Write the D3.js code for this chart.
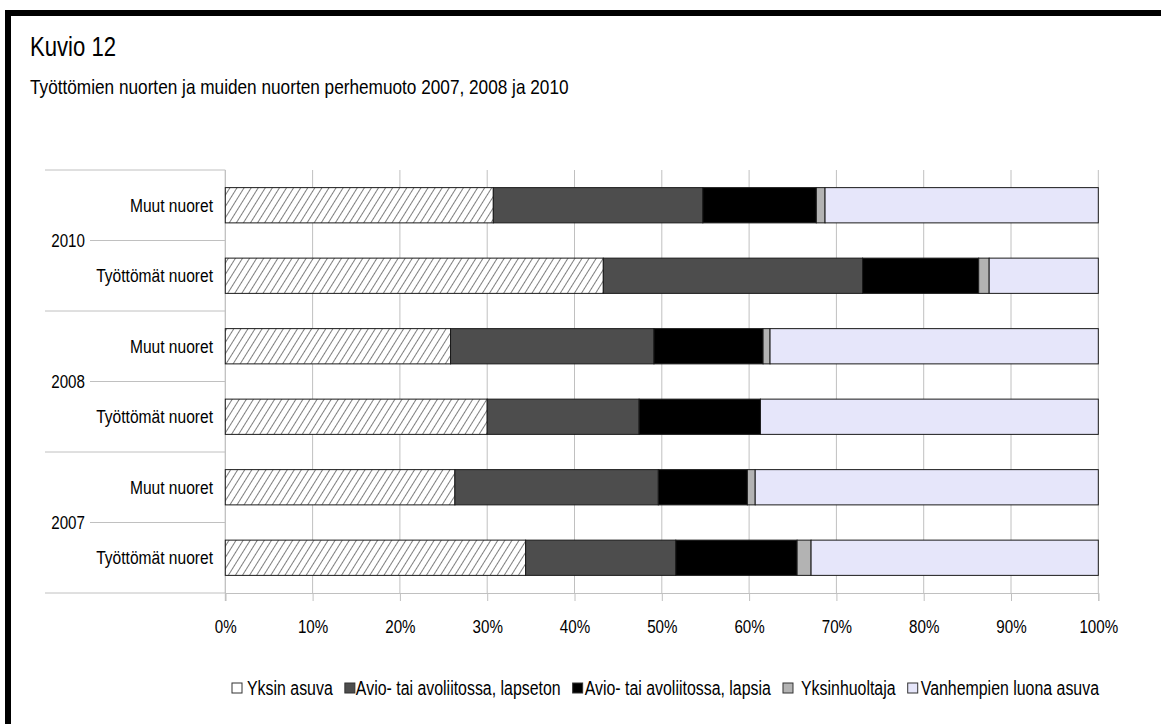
<!DOCTYPE html>
<html>
<head>
<meta charset="utf-8">
<script src="https://cdn.jsdelivr.net/npm/d3@7"></script>
<style>
  body { margin: 0; background: #fff; }
  svg text { font-family: "Liberation Sans", Arial, sans-serif; fill: #000; }
</style>
</head>
<body>
<svg id="chart" width="1161" height="724"></svg>
<script>
// ---- data ----
const years = ["2010", "2008", "2007"];
const groups = ["Muut nuoret", "Työttömät nuoret"];
const seriesNames = ["Yksin asuva", "Avio- tai avoliitossa, lapseton", "Avio- tai avoliitossa, lapsia", "Yksinhuoltaja", "Vanhempien luona asuva"];
// values (%) per row, top to bottom: 2010 Muut, 2010 Työttömät, 2008 Muut, 2008 Työttömät, 2007 Muut, 2007 Työttömät
const yksinAsuva      = [30.7, 43.3, 25.8, 30.0, 26.3, 34.4];
const lapseton        = [24.0, 29.7, 23.3, 17.4, 23.3, 17.2];
const lapsia          = [13.0, 13.3, 12.5, 13.9, 10.2, 13.9];
const yksinhuoltaja   = [ 1.0,  1.2,  0.8,  0.0,  0.9,  1.6];
const vanhempienLuona = [31.3, 12.5, 37.6, 38.7, 39.3, 32.9];
const xTicks = [0, 10, 20, 30, 40, 50, 60, 70, 80, 90, 100];
const title = "Kuvio 12";
const subtitle = "Työttömien nuorten ja muiden nuorten perhemuoto 2007, 2008 ja 2010";

// ---- build ----
const rows = [];
years.forEach(yr => groups.forEach(g => rows.push({ year: yr, group: g, key: yr + "|" + g })));
const seriesVals = [yksinAsuva, lapseton, lapsia, yksinhuoltaja, vanhempienLuona];
const table = rows.map((r, i) => {
  const o = { key: r.key };
  seriesNames.forEach((s, j) => o[s] = seriesVals[j][i]);
  return o;
});
const stacked = d3.stack().keys(seriesNames)(table);

const svg = d3.select("#chart");
const fills = ["url(#hatch)", "#4d4d4d", "#000000", "#b3b3b3", "#e6e6fa"];
const NARROW = 0.82;

// narrow text helper (emulates a condensed face)
function ntext(parent, xPos, yPos, size, str, anchor) {
  return parent.append("text")
    .attr("transform", `translate(${xPos},${yPos}) scale(${NARROW},1)`)
    .attr("font-size", size).attr("text-anchor", anchor || "start").text(str);
}

const defs = svg.append("defs");
const pat = defs.append("pattern").attr("id", "hatch").attr("patternUnits", "userSpaceOnUse")
  .attr("width", 6).attr("height", 6).attr("patternTransform", "rotate(32)");
pat.append("rect").attr("width", 6).attr("height", 6).attr("fill", "#fff");
pat.append("line").attr("x1", 0).attr("y1", 0).attr("x2", 0).attr("y2", 6).attr("stroke", "#000").attr("stroke-width", 1);

// frame
svg.append("rect").attr("x", 8).attr("y", 13).attr("width", 1200).attr("height", 760)
  .attr("fill", "none").attr("stroke", "#000").attr("stroke-width", 6);

ntext(svg, 30, 56, 27, title);
ntext(svg, 30, 94, 21, subtitle);

const pLeft = 225.3, pRight = 1098.3, pTop = 170, pBottom = 593;
const x = d3.scaleLinear().domain([0, 100]).range([pLeft, pRight]);
const y = d3.scaleBand().domain(rows.map(r => r.key)).range([pTop, pBottom]).paddingInner(0.5).paddingOuter(0.25);
const gridColor = "#c0c0c0";

// vertical gridlines
svg.append("g").selectAll("line").data(xTicks).join("line")
  .attr("x1", d => x(d)).attr("x2", d => x(d)).attr("y1", pTop).attr("y2", pBottom)
  .attr("stroke", gridColor).attr("stroke-width", 1);

// x axis
const xAxis = svg.append("g").attr("transform", `translate(0,${pBottom})`)
  .call(d3.axisBottom(x).tickValues(xTicks).tickFormat(d => d + "%").tickSize(8).tickPadding(19));
xAxis.select(".domain").attr("stroke", gridColor);
xAxis.selectAll(".tick line").attr("stroke", gridColor);
xAxis.selectAll("text").attr("font-size", 18.5).attr("fill", "#000")
  .style("font-family", '"Liberation Sans", Arial, sans-serif')
  .attr("transform", `scale(${NARROW},1)`);

// y axis line
svg.append("line").attr("x1", pLeft).attr("x2", pLeft).attr("y1", pTop).attr("y2", pBottom + 8)
  .attr("stroke", gridColor);

// hierarchical category axis
const step = y.step();
const bounds = [0, 2, 4, 6].map(i => pTop + i * step);
svg.append("g").selectAll("line").data(bounds).join("line")
  .attr("x1", 45).attr("x2", pLeft).attr("y1", d => d).attr("y2", d => d)
  .attr("stroke", gridColor);
years.forEach((yr, i) => {
  const yc = pTop + (2 * i + 1) * step;
  svg.append("line").attr("x1", 90).attr("x2", pLeft).attr("y1", yc).attr("y2", yc).attr("stroke", gridColor);
  ntext(svg, 85, yc, 18.5, yr, "end").attr("dy", "0.35em");
});
rows.forEach(r => {
  ntext(svg, 213, y(r.key) + y.bandwidth() / 2, 19, r.group, "end").attr("dy", "0.35em");
});

// bars
svg.append("g").selectAll("g").data(stacked).join("g")
  .attr("fill", (d, i) => fills[i])
  .selectAll("rect").data(d => d.filter(p => p[1] - p[0] > 0)).join("rect")
  .attr("x", d => x(d[0])).attr("width", d => x(d[1]) - x(d[0]))
  .attr("y", d => y(d.data.key)).attr("height", y.bandwidth())
  .attr("stroke", "#1a1a1a").attr("stroke-width", 1);

// legend
const symGap = [5, 1, 2, 8, 3];
const lg = svg.append("g").attr("transform", "translate(232,688)");
let cx = 0;
const items = lg.selectAll("g").data(seriesNames).join("g");
items.append("rect").attr("width", 10).attr("height", 10).attr("y", -5)
  .attr("fill", (d, i) => i === 0 ? "#fff" : fills[i]).attr("stroke", "#333").attr("stroke-width", 1);
items.append("text").attr("transform", (d, i) => `translate(${10 + symGap[i]},0) scale(${NARROW},1)`).attr("dy", "0.35em")
  .attr("font-size", 19.4).text(d => d);
items.each(function () {
  const w = this.getBoundingClientRect().width;
  d3.select(this).attr("transform", `translate(${cx},0)`);
  cx += w + 12;
});
</script>
</body>
</html>
